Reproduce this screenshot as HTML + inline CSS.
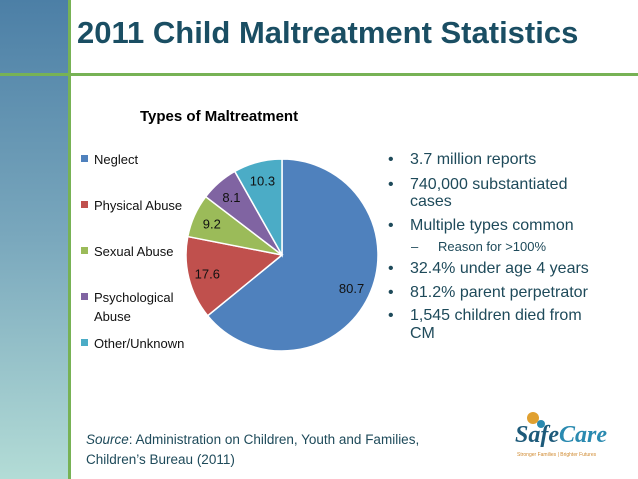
<!DOCTYPE html>
<html><head><meta charset="utf-8"><style>
body{margin:0;width:638px;height:479px;overflow:hidden;background:#fff;font-family:"Liberation Sans",sans-serif;position:relative}
.abs{position:absolute;white-space:nowrap}
</style></head><body>
<div class="abs" style="left:0;top:0;width:68px;height:479px;background:linear-gradient(#4c7fa6,#7aa8bd 50%,#b3dcd6)"></div>
<div class="abs" style="left:68px;top:0;width:3px;height:479px;background:#77b255"></div>
<div class="abs" style="left:0;top:73px;width:638px;height:3px;background:#77b255"></div>
<div class="abs" style="left:77px;top:15px;font-size:31px;font-weight:bold;color:#1a4e63">2011 Child Maltreatment Statistics</div>
<svg class="abs" style="left:0;top:0" width="638" height="479" id="chart"></svg>
<div style="color:#1e4a5a;font-size:16px">
<div class="abs" style="left:388px;top:151px">•</div><div class="abs" style="left:410px;top:151px">3.7 million reports</div>
<div class="abs" style="left:388px;top:176px">•</div><div class="abs" style="left:410px;top:176px;line-height:17px">740,000 substantiated<br>cases</div>
<div class="abs" style="left:388px;top:217px">•</div><div class="abs" style="left:410px;top:217px">Multiple types common</div>
<div class="abs" style="left:411px;top:239px;font-size:13px">–</div><div class="abs" style="left:438px;top:239px;font-size:13px">Reason for &gt;100%</div>
<div class="abs" style="left:388px;top:260px">•</div><div class="abs" style="left:410px;top:260px">32.4% under age 4 years</div>
<div class="abs" style="left:388px;top:284px">•</div><div class="abs" style="left:410px;top:284px">81.2% parent perpetrator</div>
<div class="abs" style="left:388px;top:307px">•</div><div class="abs" style="left:410px;top:307px;line-height:18px">1,545 children died from<br>CM</div>
</div>
<div class="abs" style="left:86px;top:430px;font-size:13.5px;color:#1e4a5a;line-height:20px"><i>Source</i>: Administration on Children, Youth and Families,<br>Children’s Bureau (2011)</div>
<div class="abs" style="left:515px;top:412px;width:110px;height:50px">
<div class="abs" style="left:12px;top:0;width:12px;height:12px;border-radius:50%;background:#e0a030"></div>
<div class="abs" style="left:22px;top:8px;width:8px;height:8px;border-radius:50%;background:#2a8ab0"></div>
<div class="abs" style="left:0;top:10px;font-size:24px;font-weight:bold;font-style:italic;color:#1d5a7a;font-family:'Liberation Serif',serif">Safe<span style="color:#2a8ab0">Care</span></div>
<div class="abs" style="left:2px;top:40px;font-size:5px;color:#d08a30">Stronger Families | Brighter Futures</div>
</div>
<script>
const categories=["Neglect","Physical Abuse","Sexual Abuse","Psychological Abuse","Other/Unknown"];
const values=[80.7,17.6,9.2,8.1,10.3];
const valueLabels=["80.7","17.6","9.2","8.1","10.3"];
const colors=["#4f81bd","#c0504d","#9bbb59","#8064a2","#4bacc6"];
const NS="http://www.w3.org/2000/svg";
const svg=document.getElementById('chart');
const cx=282,cy=255,r=96;
const total=values.reduce((a,b)=>a+b,0);
function pt(a,rr){return [cx+rr*Math.sin(a),cy-rr*Math.cos(a)];}
let t=document.createElementNS(NS,'text');


t.setAttribute('x',140);t.setAttribute('y',121);t.setAttribute('font-size','15');t.setAttribute('font-weight','bold');t.setAttribute('fill','#000');
t.textContent='Types of Maltreatment';svg.appendChild(t);
let acc=0;
values.forEach((v,i)=>{
 const a0=acc/total*2*Math.PI;acc+=v;const a1=acc/total*2*Math.PI;
 const p0=pt(a0,r),p1=pt(a1,r);
 const p=document.createElementNS(NS,'path');
 
 
 p.setAttribute('d',`M${cx},${cy}L${p0[0]},${p0[1]}A${r},${r} 0 ${a1-a0>Math.PI?1:0} 1 ${p1[0]},${p1[1]}Z`);
 p.setAttribute('fill',colors[i]);p.setAttribute('stroke','#fff');p.setAttribute('stroke-width','1.5');
 svg.appendChild(p);
 const m=(a0+a1)/2,lp=pt(m,77);
 const l=document.createElementNS(NS,'text');
 
 
 l.setAttribute('x',lp[0]);l.setAttribute('y',lp[1]+5);l.setAttribute('text-anchor','middle');l.setAttribute('font-size','13');l.setAttribute('fill','#111');
 l.textContent=valueLabels[i];svg.appendChild(l);
 const ly=[164,210,256,302,348][i];
 const sq=document.createElementNS(NS,'rect');
 
 
 sq.setAttribute('x',81);sq.setAttribute('y',ly-9);sq.setAttribute('width',7);sq.setAttribute('height',7);sq.setAttribute('fill',colors[i]);svg.appendChild(sq);
 const lt=document.createElementNS(NS,'text');
 
 
 lt.setAttribute('x',94);lt.setAttribute('y',ly);lt.setAttribute('font-size','13');lt.setAttribute('fill','#111');
 if(i===3){lt.innerHTML='<tspan x="94">Psychological</tspan><tspan x="94" dy="19">Abuse</tspan>';}
 else lt.textContent=categories[i];
 svg.appendChild(lt);
});
</script>
</body></html>
